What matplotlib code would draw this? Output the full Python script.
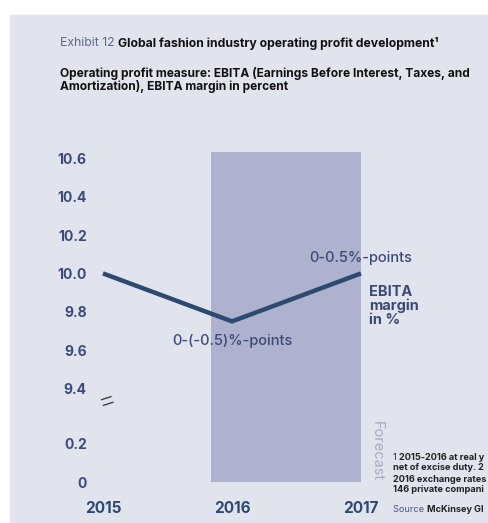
import matplotlib
matplotlib.use("Agg")
import matplotlib.pyplot as plt
from matplotlib.patches import Rectangle

plt.rcParams['font.family'] = ['Inter', 'DejaVu Sans']

years = [2015, 2016, 2017]
margin = [10.0, 9.75, 10.0]
ytick_vals = [0, 0.2, 9.4, 9.6, 9.8, 10.0, 10.2, 10.4, 10.6]
ytick_labels = ["0", "0.2", "9.4", "9.6", "9.8", "10.0", "10.2", "10.4", "10.6"]
forecast_span = (2015.84, 2017.0)
forecast_top = 10.63
ann_down = "0-(-0.5)%-points"
ann_up = "0-0.5%-points"
foot_num = "1 "
footnote = ["2015-2016 at real y",
            "net of excise duty. 2",
            "2016 exchange rates",
            "146 private compani"]
source_label = "Source "
source_text = "McKinsey Gl"

GAP = 55 / 192.0
def f(v):
    return v if v <= 1 else v - 9.4 + 0.2 + GAP

W, H = 488, 523
fig = plt.figure(figsize=(W / 100, H / 100), dpi=100, facecolor='white')
bg = '#e1e3ed'
fig.patches.append(Rectangle((10 / W, 0), 1, (H - 15) / H, transform=fig.transFigure,
                             color=bg, zorder=-10))

# axes placement in pixels
L, R, B, T = 95, 420, 490, 150
ax = fig.add_axes([L / W, (H - B) / H, (R - L) / W, (B - T) / H])
ax.set_facecolor('none')
scale_x = 129.0
x0 = 2015 - (103 - L) / scale_x
ax.set_xlim(x0, x0 + (R - L) / scale_x)
ax.set_ylim(-(B - 482) / 192.0, -(B - 482) / 192.0 + (B - T) / 192.0)
for s in ax.spines.values():
    s.set_visible(False)

navy = '#2b4a70'
tickc = '#3a4a7c'
annc = '#3b4a78'

ax.add_patch(Rectangle((forecast_span[0], 0), forecast_span[1] - forecast_span[0],
                       f(forecast_top), color='#aeb2cf', zorder=1, lw=0))
ax.plot(years, [f(v) for v in margin], color=navy, lw=3.2, zorder=3,
        solid_capstyle='butt', solid_joinstyle='miter')

ax.set_yticks([f(v) for v in ytick_vals])
ax.set_yticklabels(ytick_labels)
ax.set_xticks(years)
ax.set_xticklabels([str(y) for y in years])
ax.tick_params(axis='y', length=0, pad=6, labelsize=10, labelcolor=tickc)
ax.tick_params(axis='x', length=0, pad=8, labelsize=11, labelcolor=navy)
for lab in ax.get_yticklabels() + ax.get_xticklabels():
    lab.set_fontweight('bold')

ax.text(2016, f(9.65), ann_down, ha='center', va='center', fontsize=10.5,
        color=annc, fontweight='medium', zorder=4)
ax.text(2017.0, f(10.08), ann_up, ha='center', va='center', fontsize=10.5,
        color=annc, fontweight='medium', zorder=4)
ax.text(2017.06, f(9.94), "EBITA\nmargin\nin %", ha='left', va='top', fontsize=10.5,
        fontweight='bold', color=annc, linespacing=1.0, zorder=4)
ax.text(2017.12, f(0.0) + 0.005, "Forecast", rotation=-90, ha='center', va='bottom',
        fontsize=10.5, color='#a6acc8', zorder=4)
ax.text(2015.03, f(0.2) + 0.225, "=", rotation=18, ha='center', va='center',
        fontsize=22, fontweight='light', color='#333333', zorder=4)

# titles
t1 = fig.text(60 / W, 1 - 43 / H, "Exhibit 12 ", fontsize=8.8, color='#5a6a90', va='center')
fig.canvas.draw()
bb = t1.get_window_extent()
fig.text(bb.x1 / W, 1 - 43 / H, "Global fashion industry operating profit development\u00b9",
         fontsize=8.8, fontweight='bold', color='#111111', va='center')
fig.text(60 / W, 1 - 80 / H,
         "Operating profit measure: EBITA (Earnings Before Interest, Taxes, and\nAmortization), EBITA margin in percent",
         fontsize=8.6, fontweight='bold', color='#111111', va='center', linespacing=1.05)

fs_foot = 6.6
tn = fig.text(393 / W, 1 - 457 / H, foot_num, fontsize=fs_foot, color='#222222', va='center')
fig.canvas.draw()
bbn = tn.get_window_extent()
for i, line in enumerate(footnote):
    xx = bbn.x1 / W if i == 0 else 393 / W
    fig.text(xx, 1 - (457 + 11 * i) / H, line, fontsize=fs_foot, fontweight='bold',
             color='#222222', va='center')
t2 = fig.text(393 / W, 1 - 509 / H, source_label, fontsize=fs_foot, color='#3b5a9a', va='center')
fig.canvas.draw()
bb2 = t2.get_window_extent()
fig.text(bb2.x1 / W, 1 - 509 / H, source_text, fontsize=fs_foot,
         fontweight='bold', color='#222222', va='center')

fig.savefig('out.png', dpi=100, facecolor='white')
